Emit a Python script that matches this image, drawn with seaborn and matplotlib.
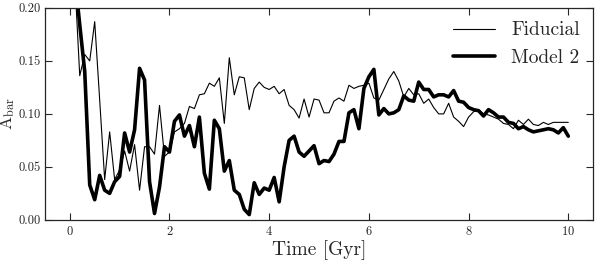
import numpy as np
import pandas as pd
import seaborn as sns
import matplotlib
matplotlib.use("Agg")
import matplotlib.pyplot as plt

# time grid (Gyr), snapshots every 0.1 Gyr
time = [round(0.1 * i, 1) for i in range(101)]

fiducial = [
    0.260, 0.227, 0.136, 0.156, 0.150, 0.187, 0.113, 0.038, 0.083, 0.038,
    0.047, 0.065, 0.046, 0.071, 0.028, 0.069, 0.069, 0.062, 0.108, 0.060,
    0.064, 0.083, 0.086, 0.091, 0.107, 0.105, 0.118, 0.119, 0.129, 0.126,
    0.134, 0.091, 0.153, 0.118, 0.135, 0.134, 0.104, 0.124, 0.130, 0.125,
    0.123, 0.126, 0.119, 0.123, 0.108, 0.104, 0.096, 0.114, 0.097, 0.114,
    0.113, 0.101, 0.101, 0.112, 0.115, 0.112, 0.127, 0.124, 0.126, 0.127,
    0.129, 0.115, 0.113, 0.123, 0.133, 0.140, 0.131, 0.116, 0.124, 0.118,
    0.119, 0.110, 0.114, 0.106, 0.100, 0.100, 0.110, 0.097, 0.093, 0.088,
    0.097, 0.102, 0.104, 0.100, 0.099, 0.097, 0.095, 0.091, 0.090, 0.086,
    0.094, 0.090, 0.095, 0.090, 0.089, 0.092, 0.090, 0.092, 0.092, 0.092,
    0.092,
]

model2 = [
    0.280, 0.230, 0.184, 0.140, 0.033, 0.019, 0.042, 0.028, 0.025, 0.036,
    0.041, 0.082, 0.064, 0.085, 0.143, 0.132, 0.036, 0.006, 0.031, 0.069,
    0.064, 0.093, 0.099, 0.079, 0.089, 0.069, 0.097, 0.044, 0.029, 0.094,
    0.086, 0.046, 0.056, 0.028, 0.024, 0.010, 0.005, 0.035, 0.024, 0.030,
    0.028, 0.040, 0.017, 0.050, 0.075, 0.079, 0.064, 0.060, 0.065, 0.070,
    0.053, 0.056, 0.055, 0.062, 0.074, 0.074, 0.101, 0.104, 0.086, 0.124,
    0.135, 0.142, 0.099, 0.105, 0.100, 0.101, 0.104, 0.117, 0.113, 0.112,
    0.130, 0.123, 0.123, 0.116, 0.118, 0.118, 0.116, 0.122, 0.112, 0.111,
    0.106, 0.104, 0.103, 0.098, 0.104, 0.101, 0.097, 0.097, 0.092, 0.091,
    0.086, 0.088, 0.085, 0.083, 0.084, 0.085, 0.086, 0.085, 0.082, 0.087,
    0.079,
]

sns.set_style("ticks")
plt.rcParams['font.family'] = 'serif'
plt.rcParams['font.serif'] = ['cmr10', 'DejaVu Serif']
plt.rcParams['mathtext.fontset'] = 'cm'
plt.rcParams['axes.formatter.use_mathtext'] = True

df = pd.DataFrame({'time': time, 'Fiducial': fiducial, 'Model 2': model2})

fig = plt.figure(figsize=(5.98, 2.63), dpi=100)
ax = fig.add_axes([0.075, 0.164, 0.917, 0.806])

sns.lineplot(data=df, x='time', y='Fiducial', ax=ax, color='black',
             linewidth=0.8, label='Fiducial')
sns.lineplot(data=df, x='time', y='Model 2', ax=ax, color='black',
             linewidth=2.6, label='Model 2')

ax.set_xlim(-0.5, 10.5)
ax.set_ylim(0, 0.2)
ax.set_xticks([0, 2, 4, 6, 8, 10])
ax.set_yticks([0.0, 0.05, 0.10, 0.15, 0.20])
ax.yaxis.set_major_formatter(matplotlib.ticker.FormatStrFormatter('%.2f'))
ax.tick_params(direction='in', top=True, right=True, length=5, width=0.8,
               labelsize=9)
ax.tick_params(axis='y', pad=3)
for s in ax.spines.values():
    s.set_linewidth(0.9)

ax.set_xlabel('Time [Gyr]', fontsize=14, labelpad=2)
ax.set_ylabel(r'A$_{\rm bar}$', fontsize=12.5)
ax.yaxis.set_label_coords(-0.05, 0.5)
ax.legend(loc='upper right', frameon=False, fontsize=14, handlelength=2.2,
          borderaxespad=0.3)

fig.savefig('out.png', dpi=100)
